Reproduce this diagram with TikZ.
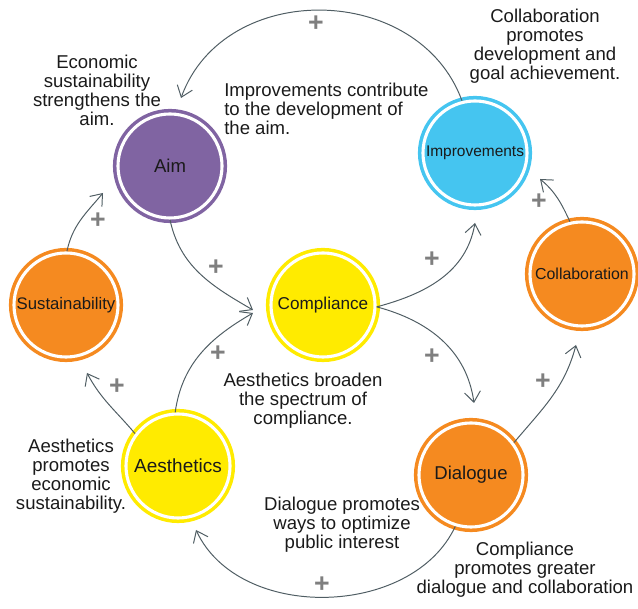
\documentclass[tikz,border=0pt]{standalone}
\usepackage{fontspec}
\setmainfont{Liberation Sans}
\usepackage{tikz}
\usetikzlibrary{arrows.meta}
\definecolor{aimpurple}{RGB}{128,100,162}
\definecolor{compyellow}{RGB}{255,235,0}
\definecolor{impblue}{RGB}{69,197,240}
\definecolor{dlgorange}{RGB}{245,138,32}
\definecolor{linkgray}{RGB}{79,93,99}
\definecolor{plusgray}{RGB}{127,127,127}
\definecolor{textdark}{RGB}{26,26,26}

\begin{document}
\begin{tikzpicture}[x=0.025cm, y=0.025cm,
  hub/.style={circle, draw=#1, fill=#1, double=white, double distance=2.2pt, line width=2.5pt, minimum size=2.6cm, inner sep=0pt, align=center, text=textdark},
  link/.style={-{Straight Barb[length=2.6mm, width=4mm]}, draw=linkgray, line width=0.7pt},
  plusmark/.style={text=plusgray, font=\fontsize{19}{19}\selectfont\bfseries, inner sep=0pt},
  remark/.style={text=textdark, align=center, font=\fontsize{13.2}{13.5}\selectfont, inner sep=0pt}]
  \useasboundingbox (0,0) rectangle (638,609);

  % circles
  \node[hub=aimpurple, font=\fontsize{13.2}{14}\selectfont] (aim) at (170,443) {Aim};
  \node[hub=compyellow, font=\fontsize{12.2}{14}\selectfont] (compl) at (323,304) {Compliance};
  \node[hub=impblue, font=\fontsize{11}{13}\selectfont] (impr) at (475,456) {Improvements};
  \node[hub=dlgorange, font=\fontsize{11.3}{13}\selectfont] (collab) at (582,335) {Collaboration};
  \node[hub=dlgorange, font=\fontsize{11.9}{13}\selectfont] (sustain) at (66,304) {Sustainability};
  \node[hub=compyellow, font=\fontsize{13.5}{14}\selectfont] (aesth) at (178,143) {Aesthetics};
  \node[hub=dlgorange, font=\fontsize{13.2}{14}\selectfont] (dialog) at (471,134) {Dialogue};

  % arrow tips
  \coordinate (tipAim) at (181,511);
  \coordinate (tipAimB) at (103,416);
  \coordinate (tipComplA) at (253,299);
  \coordinate (tipComplB) at (253,296);
  \coordinate (tipImpr) at (475,386);
  \coordinate (tipImprB) at (540,430);
  \coordinate (tipDialog) at (474,206);
  \coordinate (tipCollab) at (576,264);
  \coordinate (tipSustain) at (87,236);
  \coordinate (tipAesth) at (196,79);

  \draw[link] (impr.104) to[out=110, in=70, looseness=1.15] (tipAim);
  \draw[link] (aim.-90) to[out=-78, in=150] (tipComplA);
  \draw[link] (aesth.93) to[out=82, in=-150] (tipComplB);
  \draw[link] (compl.-2) to[out=15, in=-100] (tipImpr);
  \draw[link] (compl.-2) to[out=-15, in=98] (tipDialog);
  \draw[link] (dialog.37) to[out=50, in=-105] (tipCollab);
  \draw[link] (collab.103) to[out=115, in=-40] (tipImprB);
  \draw[link] (sustain.89) to[out=78, in=-130] (tipAimB);
  \draw[link] (aesth.143) to[out=130, in=-62] (tipSustain);
  \draw[link] (dialog.-107) to[out=-115, in=-65] (tipAesth);

  % plus signs
  \node[plusmark] (p1) at (316,585) {+};
  \node[plusmark] (p2) at (216,341) {+};
  \node[plusmark] (p3) at (432,349) {+};
  \node[plusmark] (p4) at (432,252) {+};
  \node[plusmark] (p5) at (539,407) {+};
  \node[plusmark] (p6) at (543,227) {+};
  \node[plusmark] (p7) at (98,388) {+};
  \node[plusmark] (p8) at (117,222) {+};
  \node[plusmark] (p9) at (218,255) {+};
  \node[plusmark] (p10) at (322,24) {+};

  % notes
  \node[remark] (econ) at (97,519) {Economic\\sustainability\\strengthens the\\aim.};
  \node[remark, anchor=west, align=left] (contrib) at (224,500) {Improvements contribute\\to the development of\\the aim.};
  \node[remark] (goal) at (545,563) {Collaboration\\promotes\\development and\\goal achievement.};
  \node[remark] (broaden) at (303,208) {Aesthetics broaden\\the spectrum of\\compliance.};
  \node[remark] (econpro) at (71,133) {Aesthetics\\promotes\\economic\\sustainability.};
  \node[remark] (optim) at (342,84) {Dialogue promotes\\ways to optimize\\public interest};
  \node[remark] (greater) at (525,39) {Compliance\\promotes greater\\dialogue and collaboration};
\end{tikzpicture}
\end{document}
